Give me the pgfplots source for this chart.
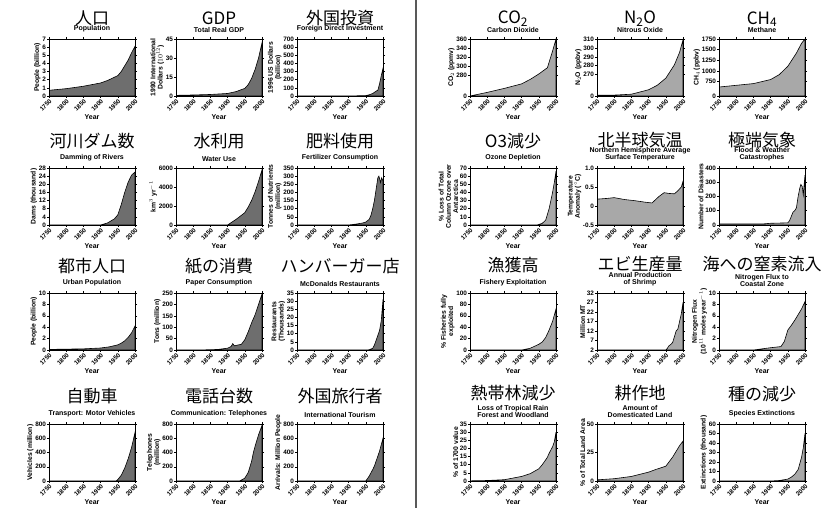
\documentclass[border=0pt]{standalone}
\usepackage{pgfplots}
\pgfplotsset{compat=1.18}
\usepackage{fontspec}
\setmainfont{Liberation Sans}
\newfontfamily\jp{Noto Sans CJK JP}
\definecolor{fillL}{gray}{0.43}
\definecolor{fillR}{gray}{0.66}
\newcommand{\jt}{\jp\fontsize{17}{17}\selectfont}
\tikzset{jtitle/.style={font=\jt, inner sep=0pt}}
\pgfplotsset{
  panel/.style={
    width=86pt, height=57pt, scale only axis, anchor=south west,
    xmin=1750, xmax=2000,
    xtick={1750,1800,1850,1900,1950,2000},
    xticklabels={1750,1800,1850,1900,1950,2000},
    tick align=outside, major tick length=2pt,
    tick style={black, line width=0.5pt},
    axis line style={line width=0.6pt},
    x tick label style={rotate=45, anchor=north east, font=\fontsize{6.2}{6.2}\selectfont\bfseries, inner sep=0.5pt},
    y tick label style={font=\fontsize{6.4}{6.4}\selectfont\bfseries, inner sep=0.8pt},
    xlabel={Year},
    xlabel style={font=\fontsize{7}{7}\selectfont\bfseries, at={(axis description cs:0.5,-0.32)}, anchor=north, inner sep=0pt},
    ylabel style={font=\fontsize{6.8}{7.2}\selectfont\bfseries, align=center, inner sep=0.8pt},
    title style={font=\fontsize{7}{7}\selectfont\bfseries, align=center, inner sep=0.6pt},
    axis on top,
    /pgf/number format/assume math mode=true,
    /pgf/number format/1000 sep={},
  },
  areaL/.style={fill=fillL, draw=black, line width=0.6pt},
  areaR/.style={fill=fillR, draw=black, line width=0.6pt},
}
\begin{document}
\begin{tikzpicture}
\path[use as bounding box] (0pt,0pt) rectangle (829pt,508pt);
\draw[line width=2pt, black!65] (416pt,0pt) -- (416pt,508pt);

% ---------------- Japanese titles ----------------
\node[jtitle] at (92pt,490pt) {人口};
\node[jtitle] at (219pt,490pt) {GDP};
\node[jtitle] at (340pt,490pt) {外国投資};
\node[jtitle] at (513pt,489pt) {CO\textsubscript{2}};
\node[jtitle] at (640pt,489pt) {N\textsubscript{2}O};
\node[jtitle] at (762pt,489pt) {CH\textsubscript{4}};
\node[jtitle] at (92pt,367pt) {河川ダム数};
\node[jtitle] at (219pt,367pt) {水利用};
\node[jtitle] at (340pt,367pt) {肥料使用};
\node[jtitle] at (513pt,367pt) {O3減少};
\node[jtitle] at (640pt,368pt) {北半球気温};
\node[jtitle] at (762pt,368pt) {極端気象};
\node[jtitle] at (92pt,242pt) {都市人口};
\node[jtitle] at (219pt,242pt) {紙の消費};
\node[jtitle] at (340pt,242pt) {ハンバーガー店};
\node[jtitle] at (513pt,243pt) {漁獲高};
\node[jtitle] at (640pt,244pt) {エビ生産量};
\node[jtitle] at (762pt,244pt) {海への窒素流入};
\node[jtitle] at (92pt,112pt) {自動車};
\node[jtitle] at (219pt,112pt) {電話台数};
\node[jtitle] at (340pt,112pt) {外国旅行者};
\node[jtitle] at (513pt,115pt) {熱帯林減少};
\node[jtitle] at (640pt,115pt) {耕作地};
\node[jtitle] at (762pt,114pt) {種の減少};

% ================= ROW 1 =================
\begin{axis}[panel, at={(49pt,412pt)}, ymin=0, ymax=7, ytick={0,1,2,3,4,5,6,7},
  ylabel={People (billion)}, title={Population}]
\addplot[areaL] coordinates {(1750,0.7)(1800,0.9)(1850,1.2)(1900,1.6)(1920,1.9)(1950,2.5)(1960,3.0)(1970,3.7)(1980,4.4)(1990,5.3)(2000,6.1)} \closedcycle;
\end{axis}
\begin{axis}[panel, at={(176pt,412pt)}, ymin=0, ymax=45, ytick={0,15,30,45},
  ylabel={1990 International\\Dollars ($10^{12}$)}, title={Total Real GDP}]
\addplot[areaL] coordinates {(1750,0.5)(1800,0.8)(1850,1.2)(1900,2)(1925,3.5)(1950,6)(1960,9)(1970,14)(1980,21)(1990,30)(2000,42)} \closedcycle;
\end{axis}
\begin{axis}[panel, at={(297pt,412pt)}, ymin=0, ymax=700, ytick={0,100,...,700},
  ylabel={1996 US Dollars\\(billion)}, title={Foreign Direct Investment}]
\addplot[areaL] coordinates {(1750,0)(1900,0)(1950,5)(1960,15)(1970,30)(1975,45)(1980,60)(1985,70)(1990,150)(1995,250)(2000,340)} \closedcycle;
\end{axis}
\begin{axis}[panel, at={(470pt,412pt)}, ymin=233, ymax=360, ytick={233,280,300,320,340,360},
  yticklabels={0,280,300,320,340,360},
  ylabel={CO$_2$ (ppmv)}, title={Carbon Dioxide}]
\addplot[areaR] coordinates {(1750,233)(1800,241)(1850,250)(1900,260)(1925,270)(1950,282)(1975,296)(1990,333)(2000,360)} \closedcycle;
\end{axis}
\begin{axis}[panel, at={(597pt,412pt)}, ymin=246, ymax=310, ytick={246,270,280,290,300,310},
  yticklabels={0,270,280,290,300,310},
  ylabel={N$_2$O (ppbv)}, title={Nitrous Oxide}]
\addplot[areaR] coordinates {(1750,247)(1800,247)(1850,248)(1900,253)(1925,258)(1950,266)(1975,281)(1990,295)(2000,309)} \closedcycle;
\end{axis}
\begin{axis}[panel, at={(719pt,412pt)}, ymin=415, ymax=1750, ytick={415,750,1000,1250,1500,1750},
  yticklabels={0,750,1000,1250,1500,1750},
  ylabel={CH$_4$ (ppbv)}, title={Methane}]
\addplot[areaR] coordinates {(1750,625)(1800,665)(1850,705)(1900,800)(1925,915)(1950,1110)(1975,1420)(1990,1650)(2000,1750)} \closedcycle;
\end{axis}

% ================= ROW 2 =================
\begin{axis}[panel, at={(49pt,283pt)}, ymin=0, ymax=28, ytick={0,4,...,28},
  ylabel={Dams (thousand)}, title={Damming of Rivers}]
\addplot[areaL] coordinates {(1750,0)(1900,0)(1920,1)(1940,3)(1950,5)(1960,10)(1970,16)(1980,21)(1990,24.5)(2000,26)} \closedcycle;
\end{axis}
\begin{axis}[panel, at={(176pt,283pt)}, ymin=0, ymax=6000, ytick={0,2000,4000,6000},
  ylabel={km$^3$ yr$^{-1}$}, title={Water Use}]
\addplot[areaL] coordinates {(1750,0)(1900,0)(1925,600)(1950,1300)(1960,1900)(1970,2600)(1980,3500)(1990,4600)(2000,5800)} \closedcycle;
\end{axis}
\begin{axis}[panel, at={(297pt,283pt)}, ymin=0, ymax=350, ytick={0,50,...,350},
  ylabel={Tonnes of Nutrients\\(million)}, title={Fertilizer Consumption}]
\addplot[areaL] coordinates {(1750,0)(1900,0)(1920,5)(1940,12)(1950,18)(1960,35)(1965,60)(1970,100)(1975,150)(1980,220)(1985,290)(1988,300)(1990,285)(1993,260)(1996,290)(2000,270)} \closedcycle;
\end{axis}
\begin{axis}[panel, at={(470pt,283pt)}, ymin=0, ymax=70, ytick={0,10,...,70},
  ylabel={\% Loss of Total\\Column Ozone over\\Antarctica}, title={Ozone Depletion}]
\addplot[areaR] coordinates {(1750,0)(1945,0)(1960,2)(1970,6)(1975,13)(1980,20)(1985,30)(1990,40)(1995,52)(2000,66)} \closedcycle;
\end{axis}
\begin{axis}[panel, at={(597pt,283pt)}, ymin=-0.5, ymax=1.0, ytick={-0.5,0,0.5,1.0},
  yticklabels={-0.5,0,0.5,1.0},
  ylabel={Temperature\\Anomaly ($^\circ$C)}, title={Northern Hemisphere Average\\Surface Temperature}]
\addplot[areaR] coordinates {(1750,-0.5)(1750,0.18)(1780,0.2)(1800,0.22)(1830,0.17)(1860,0.14)(1890,0.1)(1910,0.08)(1930,0.25)(1945,0.35)(1960,0.33)(1975,0.32)(1985,0.4)(1995,0.5)(2000,0.65)(2000,-0.5)} --cycle;
\end{axis}
\begin{axis}[panel, at={(719pt,283pt)}, ymin=0, ymax=400, ytick={0,100,...,400},
  ylabel={Number of Disasters}, title={Flood \& Weather\\Catastrophes}]
\addplot[areaR] coordinates {(1750,8)(1880,8)(1900,12)(1950,15)(1955,30)(1960,60)(1965,90)(1970,100)(1975,120)(1980,200)(1985,260)(1988,285)(1992,270)(1995,210)(1998,300)(2000,350)} \closedcycle;
\end{axis}

% ================= ROW 3 =================
\begin{axis}[panel, at={(49pt,158pt)}, ymin=0, ymax=10, ytick={0,2,...,10},
  ylabel={People (billion)}, title={Urban Population}]
\addplot[areaL] coordinates {(1750,0.1)(1800,0.15)(1850,0.2)(1900,0.35)(1925,0.55)(1950,0.9)(1960,1.2)(1970,1.6)(1980,2.2)(1990,3.0)(2000,4.2)} \closedcycle;
\end{axis}
\begin{axis}[panel, at={(176pt,158pt)}, ymin=0, ymax=250, ytick={0,50,...,250},
  ylabel={Tons (million)}, title={Paper Consumption}]
\addplot[areaL] coordinates {(1750,0)(1850,1)(1875,3)(1900,8)(1910,15)(1915,28)(1920,18)(1930,22)(1940,25)(1950,45)(1960,80)(1970,120)(1980,155)(1990,200)(2000,245)} \closedcycle;
\end{axis}
\begin{axis}[panel, at={(297pt,158pt)}, ymin=0, ymax=35, ytick={0,5,...,35},
  ylabel={Restaurants\\(Thousands)}, title={McDonalds Restaurants}]
\addplot[areaL] coordinates {(1750,0)(1955,0)(1960,0.2)(1970,1)(1975,3)(1980,6)(1985,9)(1990,12)(1995,18)(2000,31)} \closedcycle;
\end{axis}
\begin{axis}[panel, at={(470pt,158pt)}, ymin=0, ymax=100, ytick={0,20,...,100},
  ylabel={\% Fisheries fully\\exploited}, title={Fishery Exploitation}]
\addplot[areaR] coordinates {(1750,0)(1900,0)(1925,3)(1950,10)(1960,14)(1970,22)(1980,35)(1990,50)(2000,72)} \closedcycle;
\end{axis}
\begin{axis}[panel, at={(597pt,158pt)}, ymin=2, ymax=32, ytick={2,7,...,32},
  ylabel={Million MT}, title={Annual Production\\of Shrimp}]
\addplot[areaR] coordinates {(1750,2)(1950,2)(1955,3)(1958,4)(1965,5)(1970,6)(1975,9)(1980,12)(1985,13)(1990,17)(1995,21)(2000,27)} \closedcycle;
\end{axis}
\begin{axis}[panel, at={(719pt,158pt)}, ymin=0, ymax=10, ytick={0,2,...,10},
  ylabel={Nitrogen Flux\\(10$^{11}$ moles year$^{-1}$)}, title={Nitrogen Flux to\\Coastal Zone}]
\addplot[areaR] coordinates {(1750,0)(1850,0)(1875,0.2)(1900,0.4)(1930,0.6)(1940,1.5)(1950,3.5)(1960,4.3)(1970,5.2)(1980,6.2)(1990,7.2)(2000,8.5)} \closedcycle;
\end{axis}

% ================= ROW 4 =================
\begin{axis}[panel, at={(49pt,27pt)}, ymin=0, ymax=800, ytick={0,200,...,800},
  ylabel={Vehicles (million)}, title={Transport: Motor Vehicles}]
\addplot[areaL] coordinates {(1750,0)(1945,0)(1950,20)(1960,80)(1970,180)(1980,310)(1990,470)(2000,680)} \closedcycle;
\end{axis}
\begin{axis}[panel, at={(176pt,27pt)}, ymin=0, ymax=800, ytick={0,200,...,800},
  ylabel={Telephones\\(million)}, title={Communication: Telephones}]
\addplot[areaL] coordinates {(1750,0)(1935,0)(1950,40)(1960,120)(1970,280)(1975,400)(1980,490)(1990,650)(2000,780)} \closedcycle;
\end{axis}
\begin{axis}[panel, at={(297pt,27pt)}, ymin=0, ymax=800, ytick={0,200,...,800},
  ylabel={Arrivals: Million People}, title={International Tourism}]
\addplot[areaL] coordinates {(1750,0)(1950,0)(1960,70)(1970,160)(1975,210)(1980,280)(1990,420)(2000,600)} \closedcycle;
\end{axis}
\begin{axis}[panel, at={(470pt,27pt)}, ymin=0, ymax=35, ytick={0,5,...,35},
  ylabel={\% of 1700 value}, title={Loss of Tropical Rain\\Forest and Woodland}]
\addplot[areaR] coordinates {(1750,0.1)(1800,0.3)(1850,0.8)(1900,2.8)(1925,4.5)(1950,7.5)(1960,10)(1970,13)(1975,14.6)(1980,17)(1990,21)(1995,24)(2000,30)} \closedcycle;
\end{axis}
\begin{axis}[panel, at={(597pt,27pt)}, ymin=0, ymax=50, ytick={0,25,50},
  ylabel={\% of Total Land Area}, title={Amount of\\Domesticated Land}]
\addplot[areaR] coordinates {(1750,1)(1800,2)(1850,4)(1900,7.8)(1920,10)(1930,11)(1950,13)(1960,17)(1970,21)(1975,23.5)(1980,26)(1990,31)(2000,35)} \closedcycle;
\end{axis}
\begin{axis}[panel, at={(719pt,27pt)}, ymin=0, ymax=60, ytick={0,10,...,60},
  ylabel={Extinctions (thousand)}, title={Species Extinctions}]
\addplot[areaR] coordinates {(1750,0)(1900,0)(1925,0.5)(1950,2)(1960,4)(1970,7)(1980,12)(1990,25)(1995,35)(2000,50)} \closedcycle;
\end{axis}
\end{tikzpicture}
\end{document}
